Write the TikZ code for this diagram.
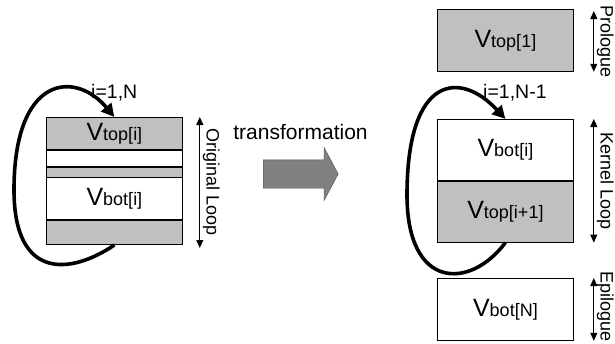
\documentclass[tikz,border=0pt]{standalone}
\usepackage{fontspec}
\setmainfont{Liberation Sans}
\usetikzlibrary{positioning,arrows.meta,shapes.arrows}
\definecolor{boxgray}{RGB}{192,192,192}
\definecolor{arrowgray}{RGB}{128,128,128}
\newcommand{\varname}[1]{{\fontsize{25}{25}\selectfont V}{\fontsize{18}{18}\selectfont #1}}

\begin{document}
\begin{tikzpicture}[x=1pt,y=1pt,
                    graybox/.style={rectangle,draw=black,fill=boxgray,line width=0.8pt,minimum width=136pt,inner sep=0pt,anchor=north west},
                    whitebox/.style={graybox,fill=white},
                    loopline/.style={line width=3.6pt,-{Triangle[length=13pt,width=13pt]}},
                    dimline/.style={line width=1pt,{Triangle[length=8pt,width=7pt]}-{Triangle[length=8pt,width=7pt]}},
                    sidelbl/.style={rotate=-90,anchor=south,inner sep=0pt,inner ysep=2.5pt,font=\fontsize{18}{18}\selectfont},
                    looplbl/.style={anchor=west,inner sep=0pt,font=\fontsize{19.5}{19.5}\selectfont}
                ]
                    \useasboundingbox (0,0) rectangle (615,-343);

                    \node[graybox,minimum height=32pt] (orig1) at (46,-117) {\varname{top[i]}};
                    \node[whitebox,minimum height=16pt,below=0pt of orig1] (orig2) {};
                    \node[graybox,minimum height=10pt,below=0pt of orig2] (orig3) {};
                    \node[whitebox,minimum height=42pt,below=0pt of orig3] (orig4) {\varname{bot[i]}};
                    \node[graybox,minimum height=24pt,below=0pt of orig4] (orig5) {};

                    \draw[loopline] (orig5.south) .. controls (70,-275) and (14,-280) .. (14,-190) .. controls (14,-75) and (75,-70) .. (orig1.north);
                    \node[looplbl] (lblorig) at (91,-93) {i=1,N};
                    \draw[dimline] ([xshift=17pt]orig1.north east) -- ([xshift=17pt,yshift=-3pt]orig5.south east) node[midway,sidelbl] (txtorig) {Original Loop};

                    \node[single arrow,draw=black!70,fill=arrowgray,minimum height=75pt,inner xsep=0pt,inner ysep=14pt,
                          single arrow head extend=12.5pt,single arrow tip angle=124,anchor=tail] (trans) at (263,-174) {};
                    \node[anchor=base,inner sep=0pt,font=\fontsize{21}{21}\selectfont] (translbl) at (300.5,-139) {transformation};

                    \node[graybox,minimum height=62pt] (pro) at (437,-9) {\varname{top[1]}};
                    \node[whitebox,minimum height=61pt] (kern1) at (437,-119) {\varname{bot[i]}};
                    \node[graybox,minimum height=61pt,below=0pt of kern1] (kern2) {\varname{top[i+1]}};
                    \node[whitebox,minimum height=62pt] (epi) at (437,-278) {\varname{bot[N]}};

                    \draw[loopline] (kern2.south) .. controls (470,-290) and (407,-290) .. (407,-195) .. controls (407,-75) and (460,-70) .. (kern1.north);
                    \node[looplbl] (lblkern) at (483,-93) {i=1,N-1};

                    \draw[dimline] ([xshift=20pt,yshift=-2pt]pro.north east) -- ([xshift=20pt]pro.south east) node[midway,sidelbl] (txtpro) {Prologue};
                    \draw[dimline] ([xshift=20pt]kern1.north east) -- ([xshift=20pt]kern2.south east) node[midway,sidelbl] (txtkern) {Kernel Loop};
                    \draw[dimline] ([xshift=20pt]epi.north east) -- ([xshift=20pt]epi.south east) node[pos=0.46,sidelbl] (txtepi) {Epilogue};

                \end{tikzpicture}
\end{document}
